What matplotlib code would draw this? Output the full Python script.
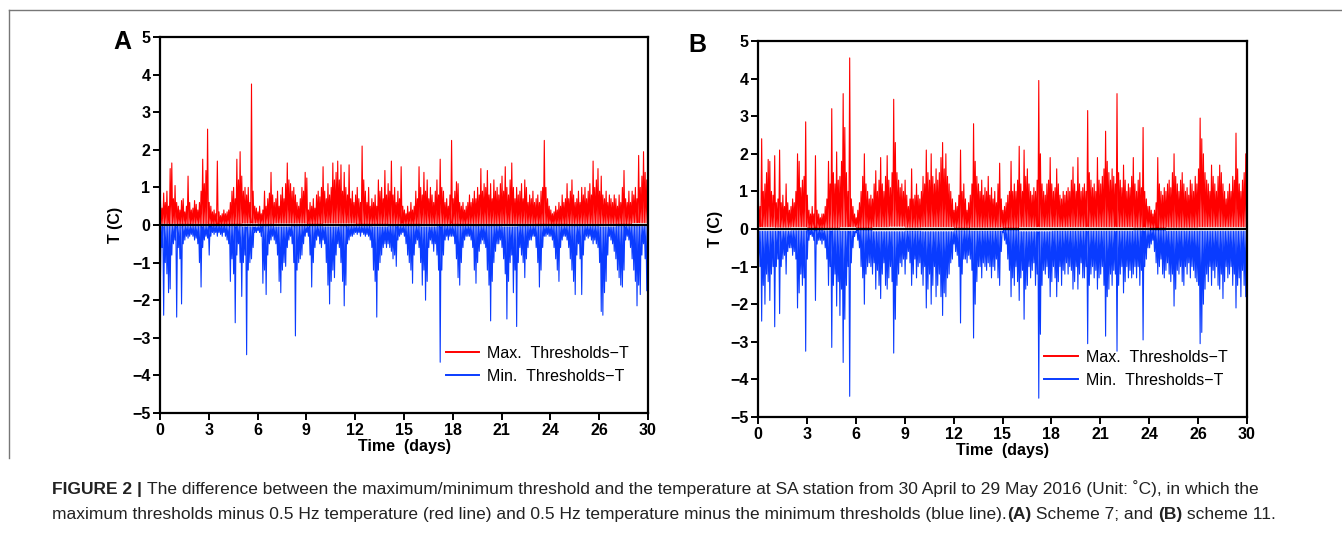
import numpy as np
import matplotlib
matplotlib.use("Agg")
import matplotlib.pyplot as plt
from matplotlib.lines import Line2D

# ---------------- data (10 local extremes per day) ----------------
tick_pos = [0, 3, 6, 9, 12, 15, 18, 21, 24, 27, 30]
tick_labels = ["0", "3", "6", "9", "12", "15", "18", "21", "24", "26", "30"]
y_ticks = [-5, -4, -3, -2, -1, 0, 1, 2, 3, 4, 5]

max_A_peaks = [
    0.7, 0.45, 0.85, 0.6, 0.9, 0.5, 1.5, 1.65, 0.7, 1.05,
    0.6, 0.5, 0.4, 0.65, 0.7, 0.35, 0.5, 1.3, 0.6, 0.4,
    0.45, 0.65, 0.55, 0.4, 0.6, 0.9, 1.75, 1.1, 1.45, 2.55,
    0.6, 0.5, 0.35, 0.4, 0.3, 1.7, 0.35, 0.25, 0.3, 0.4,
    0.3, 0.35, 0.4, 0.6, 0.9, 1.0, 0.7, 1.75, 1.2, 1.95,
    1.3, 0.9, 1.0, 0.8, 1.0, 0.6, 3.75, 0.9, 0.5, 0.45,
    0.35, 0.5, 0.3, 0.4, 0.9, 0.5, 0.7, 0.85, 1.4, 0.8,
    0.6, 0.7, 0.9, 0.5, 0.8, 1.0, 0.7, 1.1, 1.65, 1.2,
    1.1, 0.9, 1.0, 0.8, 0.6, 0.5, 0.7, 1.0, 0.9, 1.4,
    1.25, 0.4, 0.6, 0.5, 0.7, 0.45, 0.8, 0.9, 0.75, 1.0,
    1.55, 0.9, 0.7, 1.1, 0.8, 1.0, 1.65, 1.2, 1.4, 1.7,
    1.2, 1.6, 0.9, 1.4, 1.0, 0.8, 1.6, 0.7, 0.9, 0.6,
    0.8, 1.0, 0.7, 0.6, 2.1, 1.2, 0.9, 0.6, 1.0, 0.5,
    0.7, 0.6, 0.8, 0.5, 1.2, 0.9, 1.0, 0.7, 1.45, 0.8,
    1.1, 0.9, 1.7, 0.8, 1.0, 0.6, 0.9, 0.7, 1.55, 0.5,
    0.4, 0.3, 0.5, 0.35, 0.6, 0.4, 0.5, 0.9, 0.7, 1.55,
    1.0, 0.8, 1.4, 0.9, 1.2, 0.7, 1.0, 0.8, 0.6, 0.9,
    1.2, 0.8, 1.75, 1.0, 0.9, 0.6, 0.7, 0.5, 0.8, 2.25,
    0.7, 0.9, 1.15, 1.1, 0.6, 0.5, 0.6, 0.4, 0.5, 0.6,
    0.8, 0.6, 0.7, 0.9, 0.7, 1.0, 0.8, 1.5, 0.9, 1.1,
    1.0, 1.45, 0.8, 1.1, 0.7, 1.2, 0.9, 1.0, 0.8, 1.1,
    1.3, 0.9, 1.55, 1.0, 0.8, 1.2, 1.65, 1.0, 0.7, 1.0,
    0.8, 0.9, 1.1, 0.7, 1.2, 1.0, 0.6, 0.8, 0.7, 0.9,
    0.6, 0.7, 0.8, 0.6, 0.9, 1.0, 2.25, 1.0, 0.7, 0.5,
    0.4, 0.3, 0.35, 0.5, 0.4, 0.6, 0.5, 0.8, 0.6, 0.7,
    1.1, 0.7, 0.9, 1.2, 0.8, 0.6, 0.7, 0.9, 0.6, 1.0,
    0.8, 1.0, 0.7, 0.9, 1.1, 0.8, 1.7, 1.0, 1.2, 1.5,
    0.9, 1.3, 0.8, 0.7, 0.9, 0.6, 0.8, 0.7, 0.6, 0.8,
    0.7, 0.5, 0.8, 0.6, 1.0, 1.45, 0.7, 0.6, 0.9, 0.6,
    0.9, 0.8, 1.0, 0.7, 1.85, 1.0, 1.3, 1.95, 1.4, 1.2,
]
max_A_base = [0.04, 0.03, 0.04, 0.02, 0.03, 0.05, 0.04, 0.05, 0.05, 0.03,
              0.05, 0.05, 0.03, 0.03, 0.04, 0.02, 0.04, 0.04, 0.03, 0.04,
              0.04, 0.04, 0.04, 0.03, 0.02, 0.04, 0.04, 0.04, 0.03, 0.06]

min_A_peaks = [
    -1.45, -0.6, -2.4, -1.0, -1.3, -1.8, -1.7, -0.8, -0.5, -0.4,
    -2.45, -0.6, -0.9, -2.1, -0.5, -0.4, -0.3, -0.35, -0.3, -0.25,
    -0.3, -0.4, -0.35, -0.5, -1.0, -1.65, -0.6, -0.4, -0.3, -0.35,
    -0.8, -0.3, -0.2, -0.25, -0.2, -0.3, -0.2, -0.25, -0.3, -0.2,
    -0.3, -0.4, -0.5, -1.5, -0.9, -1.3, -2.6, -0.8, -0.5, -1.0,
    -1.9, -1.0, -0.8, -3.45, -1.2, -1.0, -0.9, -0.6, -0.2, -0.2,
    -0.15, -0.2, -0.3, -1.55, -1.2, -1.85, -0.8, -0.5, -0.4, -0.3,
    -0.4, -0.5, -0.8, -1.5, -1.8, -1.2, -1.0, -1.1, -0.6, -0.4,
    -0.3, -0.5, -1.0, -2.95, -1.2, -1.0, -0.9, -0.8, -0.5, -0.3,
    -0.2, -0.3, -0.8, -1.65, -1.0, -0.6, -0.4, -0.3, -0.5, -0.6,
    -0.4, -0.5, -1.0, -1.6, -2.1, -1.5, -1.2, -1.4, -0.8, -0.5,
    -0.6, -1.0, -1.5, -2.15, -1.6, -0.5, -0.4, -0.3, -0.3, -0.25,
    -0.2, -0.25, -0.2, -0.3, -0.2, -0.25, -0.3, -0.25, -0.3, -0.4,
    -0.6, -1.2, -1.5, -2.45, -1.2, -1.0, -0.8, -0.6, -0.5, -0.6,
    -0.5, -0.6, -0.7, -0.9, -0.8, -1.1, -0.4, -0.3, -0.25, -0.2,
    -0.3, -0.5, -0.8, -1.0, -1.2, -1.55, -0.8, -0.5, -0.4, -0.6,
    -1.0, -1.6, -1.2, -2.0, -1.5, -0.6, -0.4, -0.5, -0.7, -0.5,
    -0.8, -1.2, -3.65, -1.2, -0.8, -0.4, -0.3, -0.4, -0.3, -0.3,
    -0.3, -0.5, -0.9, -1.4, -1.6, -1.0, -0.6, -0.4, -0.3, -0.3,
    -0.3, -0.4, -0.6, -1.2, -1.55, -1.0, -0.7, -0.5, -0.4, -0.5,
    -0.6, -1.2, -1.6, -2.55, -1.5, -1.0, -0.7, -0.5, -0.5, -0.4,
    -0.6, -0.9, -1.3, -2.5, -1.5, -1.0, -0.8, -1.8, -1.2, -2.7,
    -1.0, -0.6, -0.8, -1.0, -1.4, -0.9, -0.6, -0.4, -0.4, -0.3,
    -0.3, -0.6, -1.0, -1.65, -1.2, -0.6, -0.3, -0.3, -0.25, -0.3,
    -0.3, -0.4, -0.6, -0.9, -1.2, -1.5, -0.6, -0.4, -0.3, -0.3,
    -0.4, -0.6, -0.9, -1.2, -1.5, -1.85, -0.8, -0.5, -0.9, -1.85,
    -0.8, -0.4, -0.3, -0.35, -0.3, -0.4, -0.5, -0.4, -0.5, -0.6,
    -1.0, -2.3, -2.4, -1.8, -1.5, -0.8, -0.3, -0.4, -0.5, -0.7,
    -0.9, -1.2, -1.4, -1.6, -1.65, -1.2, -0.4, -0.3, -0.4, -0.6,
    -0.9, -1.2, -1.5, -2.15, -1.6, -1.85, -0.8, -0.5, -0.9, -1.75,
]
min_A_base = [-0.04, -0.04, -0.04, -0.02, -0.04, -0.05, -0.04, -0.05, -0.04, -0.04,
              -0.05, -0.04, -0.04, -0.05, -0.04, -0.04, -0.05, -0.04, -0.04, -0.04,
              -0.04, -0.05, -0.04, -0.04, -0.04, -0.04, -0.04, -0.05, -0.04, -0.04]

max_B_peaks = [
    0.8, 0.6, 2.4, 1.0, 1.2, 1.5, 1.85, 1.8, 1.0, 0.9,
    1.95, 0.7, 0.8, 2.1, 0.7, 0.9, 0.6, 1.2, 0.7, 0.5,
    0.6, 0.8, 0.7, 1.0, 2.0, 1.8, 1.1, 1.3, 1.4, 2.85,
    0.9, 0.5, 0.4, 0.6, 0.4, 1.95, 0.5, 0.4, 0.3, 0.4,
    0.4, 0.6, 0.8, 1.8, 1.2, 3.2, 1.5, 1.2, 2.05, 1.3,
    1.4, 1.8, 3.6, 2.7, 1.5, 1.0, 4.55, 0.8, 0.6, 0.4,
    0.3, 0.5, 0.7, 1.0, 1.4, 2.0, 1.2, 1.0, 0.8, 0.9,
    0.8, 1.2, 1.55, 1.0, 1.3, 1.9, 1.2, 1.0, 1.4, 1.95,
    1.3, 1.1, 1.5, 3.45, 2.3, 1.5, 1.3, 1.1, 1.2, 1.0,
    1.3, 0.9, 0.6, 0.8, 1.6, 0.8, 0.9, 1.2, 0.9, 0.8,
    1.0, 1.4, 1.2, 2.1, 1.5, 1.3, 2.0, 1.4, 1.2, 1.6,
    1.3, 1.5, 1.9, 2.3, 1.6, 2.0, 1.4, 1.2, 1.0, 0.8,
    0.5, 0.7, 0.6, 0.9, 2.1, 1.0, 1.2, 0.8, 0.5, 0.7,
    0.9, 1.2, 2.8, 1.8, 1.4, 1.2, 1.0, 1.3, 0.9, 1.1,
    1.0, 1.4, 0.9, 1.1, 0.8, 1.0, 0.7, 1.2, 1.75, 0.8,
    0.5, 0.6, 0.7, 0.9, 1.0, 1.8, 1.0, 1.2, 1.0, 1.3,
    2.2, 1.2, 1.0, 2.1, 1.4, 1.6, 1.2, 1.0, 0.9, 1.1,
    1.0, 1.3, 3.95, 2.0, 1.2, 1.0, 0.9, 1.2, 1.3, 1.9,
    1.2, 1.0, 1.1, 1.6, 1.2, 0.9, 0.8, 1.0, 0.9, 1.0,
    1.1, 1.0, 1.3, 1.65, 1.2, 1.0, 1.9, 1.2, 1.0, 1.1,
    1.2, 1.0, 3.15, 1.5, 1.3, 1.1, 1.2, 1.0, 1.9, 1.3,
    1.2, 1.4, 1.6, 2.6, 1.8, 1.5, 1.3, 1.6, 1.4, 1.2,
    3.6, 1.5, 1.3, 1.1, 1.7, 1.3, 1.0, 1.2, 1.1, 1.4,
    1.9, 1.2, 1.0, 1.3, 1.5, 1.1, 2.7, 1.0, 0.8, 0.6,
    0.6, 0.5, 0.4, 0.5, 0.7, 1.9, 1.2, 1.0, 0.9, 1.1,
    1.0, 1.2, 1.3, 1.1, 1.5, 2.0, 1.4, 1.2, 1.0, 1.3,
    1.5, 1.2, 1.0, 1.1, 0.9, 1.3, 1.2, 1.0, 1.4, 1.2,
    1.6, 2.95, 2.4, 2.0, 1.5, 1.3, 1.2, 1.0, 1.7, 1.4,
    1.2, 1.0, 1.4, 1.7, 1.5, 1.2, 1.0, 0.8, 1.0, 1.2,
    1.0, 1.4, 1.3, 2.55, 1.6, 1.2, 1.0, 1.3, 1.5, 2.0,
]
max_B_base = [0.06, 0.05, 0.06, 0.02, 0.04, 0.06, 0.02, 0.06, 0.07, 0.05,
              0.06, 0.06, 0.04, 0.05, 0.05, 0.02, 0.06, 0.06, 0.06, 0.06,
              0.06, 0.06, 0.06, 0.05, 0.02, 0.05, 0.05, 0.06, 0.06, 0.06]

min_B_peaks = [
    -0.8, -1.0, -2.45, -1.5, -2.0, -1.2, -1.4, -1.9, -1.2, -1.0,
    -2.6, -1.0, -0.8, -2.25, -1.0, -0.8, -0.7, -1.2, -0.6, -0.5,
    -0.5, -0.7, -0.6, -0.8, -2.1, -1.7, -1.2, -1.5, -1.3, -3.25,
    -0.8, -0.3, -0.15, -0.2, -0.3, -1.9, -0.4, -0.3, -0.3, -0.4,
    -0.3, -0.5, -0.8, -1.5, -1.0, -3.15, -1.5, -1.2, -2.05, -1.4,
    -2.3, -1.6, -3.55, -2.4, -1.5, -1.0, -4.45, -0.9, -0.5, -0.2,
    -0.1, -0.3, -0.5, -1.0, -1.3, -2.0, -1.2, -1.0, -0.9, -1.0,
    -1.2, -0.9, -1.6, -1.1, -1.5, -1.85, -1.2, -0.9, -1.5, -1.6,
    -1.3, -1.0, -1.4, -3.3, -2.4, -1.5, -1.2, -0.9, -1.0, -0.8,
    -1.2, -0.8, -0.6, -0.9, -1.5, -1.2, -0.8, -1.3, -1.0, -0.9,
    -1.2, -1.5, -1.0, -2.1, -1.6, -1.2, -2.0, -1.5, -1.0, -1.8,
    -1.5, -1.2, -1.8, -2.3, -1.7, -1.8, -1.3, -1.2, -0.9, -0.8,
    -0.4, -0.6, -0.7, -1.0, -2.5, -1.2, -0.8, -0.8, -0.9, -0.7,
    -0.8, -1.1, -2.9, -2.0, -1.4, -1.0, -1.0, -1.3, -0.9, -1.0,
    -1.1, -0.9, -1.0, -1.3, -1.0, -1.1, -0.8, -1.3, -1.5, -0.6,
    -0.1, -0.3, -0.4, -0.8, -1.1, -1.8, -1.3, -1.5, -1.0, -1.4,
    -1.9, -1.3, -1.1, -2.4, -1.6, -1.5, -1.0, -1.3, -1.1, -0.9,
    -1.5, -1.2, -4.5, -2.8, -1.5, -1.1, -1.2, -1.0, -1.3, -1.8,
    -1.4, -1.0, -1.3, -1.8, -1.4, -1.0, -1.5, -1.1, -1.2, -0.9,
    -1.2, -1.0, -1.1, -1.6, -1.4, -1.0, -1.6, -1.2, -0.9, -1.3,
    -1.3, -1.0, -3.05, -1.5, -1.2, -1.0, -1.3, -1.1, -1.6, -1.3,
    -1.2, -1.0, -1.5, -2.85, -1.8, -1.6, -1.2, -1.5, -1.1, -1.2,
    -3.25, -1.5, -1.2, -1.0, -1.7, -1.4, -1.0, -1.3, -1.1, -1.3,
    -1.2, -1.0, -1.3, -1.0, -1.5, -1.1, -2.95, -1.0, -0.8, -0.5,
    -0.5, -0.4, -0.3, -0.6, -0.9, -1.2, -1.0, -0.8, -1.2, -1.3,
    -1.1, -0.9, -1.2, -1.4, -1.2, -2.05, -1.6, -1.1, -1.2, -1.0,
    -1.4, -1.5, -1.0, -1.2, -0.9, -1.3, -1.0, -1.1, -1.3, -1.4,
    -1.5, -3.05, -2.75, -2.0, -1.6, -1.2, -1.4, -1.0, -1.5, -1.1,
    -1.3, -1.0, -1.5, -1.6, -1.2, -1.85, -1.4, -1.0, -1.3, -1.2,
    -1.0, -1.5, -1.2, -2.1, -1.5, -1.3, -1.8, -1.1, -1.5, -1.8,
]
min_B_base = [-0.06, -0.06, -0.05, -0.02, -0.05, -0.06, -0.02, -0.07, -0.07, -0.06,
              -0.07, -0.07, -0.05, -0.06, -0.06, -0.02, -0.07, -0.07, -0.06, -0.06,
              -0.06, -0.06, -0.06, -0.05, -0.02, -0.06, -0.06, -0.06, -0.06, -0.06]

legend_labels = ["Max.  Thresholds\u2212T", "Min.  Thresholds\u2212T"]

# ---------------- styling ----------------
RED = "#ff0000"
BLUE = "#0a3cff"
plt.rcParams["font.family"] = ["Liberation Sans", "DejaVu Sans"]

fig = plt.figure(figsize=(13.42, 5.40), dpi=100)


def build(peaks, base):
    peaks = np.asarray(peaks, dtype=float)
    base = np.repeat(np.asarray(base, dtype=float), len(peaks) // len(base))
    y = np.empty(2 * len(peaks))
    y[0::2] = peaks
    y[1::2] = base
    x = (np.arange(len(y)) + 0.5) * (30.0 / len(y))
    return x, y


def panel(rect, letter, letter_xy, maxp, maxb, minp, minb, ylab_x):
    ax = fig.add_axes(rect)
    xr, yr = build(maxp, maxb)
    xb, yb = build(minp, minb)
    ax.plot(xr, yr, color=RED, lw=0.8, zorder=2)
    ax.plot(xb, yb, color=BLUE, lw=0.8, zorder=2)
    ax.axhline(0, color="black", lw=1.6, zorder=3)
    ax.set_xlim(0, 30)
    ax.set_ylim(-5, 5)
    ax.set_xticks(tick_pos)
    ax.set_xticklabels(tick_labels)
    ax.set_yticks(y_ticks)
    ax.set_yticklabels([("\u2212" + str(-v)) if v < 0 else str(v) for v in y_ticks])
    for s in ax.spines.values():
        s.set_linewidth(1.6)
    ax.tick_params(direction="out", length=5, width=1.4, labelsize=11.5, pad=2)
    for lab in ax.get_xticklabels() + ax.get_yticklabels():
        lab.set_fontweight("bold")
    ax.set_xlabel("Time  (days)", fontsize=11.5, fontweight="bold")
    ax.xaxis.set_label_coords(0.5, -0.068)
    ax.set_ylabel("T (C)", fontsize=11.5, fontweight="bold")
    ax.yaxis.set_label_coords(ylab_x, 0.5)
    handles = [Line2D([], [], color=RED, lw=1.4), Line2D([], [], color=BLUE, lw=1.4)]
    ax.legend(handles, legend_labels, loc="lower left", bbox_to_anchor=(0.572, 0.06),
              frameon=False, fontsize=11.5, handlelength=2.1, handletextpad=0.5,
              labelspacing=0.5, borderaxespad=0.0)
    fig.text(letter_xy[0], letter_xy[1], letter, fontsize=18, fontweight="bold",
             ha="center", va="center")
    return ax


axA = panel([160 / 1342, 1 - 413 / 540, 488 / 1342, 376 / 540], "A", (122 / 1342, 1 - 42 / 540),
            max_A_peaks, max_A_base, min_A_peaks, min_A_base, -0.075)
axB = panel([758 / 1342, 1 - 417 / 540, 489 / 1342, 376 / 540], "B", (697 / 1342, 1 - 45 / 540),
            max_B_peaks, max_B_base, min_B_peaks, min_B_base, -0.072)

# frame lines around the figure area
fig.add_artist(Line2D([9 / 1342, 1.0], [1 - 10 / 540, 1 - 10 / 540], color="#777777", lw=1.0))
fig.add_artist(Line2D([9 / 1342, 9 / 1342], [1 - 10 / 540, 1 - 458 / 540], color="#777777", lw=1.0))

# ---------------- caption ----------------
cap_font = ["Liberation Sans", "DejaVu Sans"]
cap_size = 12.5
cap_color = "#222222"
fig.canvas.draw()
renderer = fig.canvas.get_renderer()


def write_line(pieces, x0, y):
    x = x0
    for txt, bold in pieces:
        t = fig.text(x, y, txt, fontsize=cap_size, family=cap_font, color=cap_color,
                     fontweight="bold" if bold else "normal", ha="left", va="baseline")
        bb = t.get_window_extent(renderer=renderer)
        x += bb.width / fig.bbox.width


write_line([("FIGURE 2 | ", True),
            ("The difference between the maximum/minimum threshold and the temperature at SA station "
             "from 30 April to 29 May 2016 (Unit: \u02daC), in which the", False)],
           52 / 1342, 1 - 494 / 540)
write_line([("maximum thresholds minus 0.5 Hz temperature (red line) and 0.5 Hz temperature minus the "
             "minimum thresholds (blue line).", False), ("(A)", True), (" Scheme 7; and ", False),
            ("(B)", True), (" scheme 11.", False)],
           52 / 1342, 1 - 519 / 540)

fig.savefig("out.png", dpi=100)
